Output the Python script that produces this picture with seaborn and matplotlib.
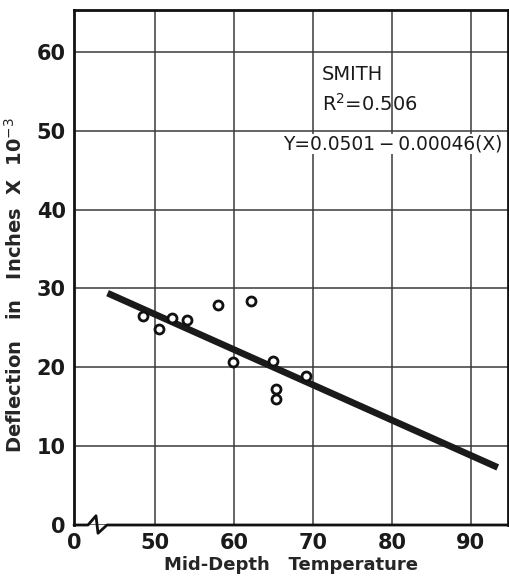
import matplotlib
matplotlib.use("Agg")
import matplotlib.pyplot as plt
import seaborn as sns
import pandas as pd
from matplotlib.lines import Line2D

# ---- data ----
temperature = [48.5, 50.5, 52.1, 54.1, 58.0, 62.2, 59.9, 65.0, 69.1, 65.3, 65.3]
deflection = [26.5, 24.9, 26.3, 26.0, 27.9, 28.4, 20.7, 20.8, 18.9, 17.3, 16.0]
fit_x = [44.0, 93.4]
fit_y = [29.4, 7.3]
x_tick_vals = [39.75, 50, 60, 70, 80, 90]
x_tick_labels = ["0", "50", "60", "70", "80", "90"]
y_tick_vals = [0, 10, 20, 30, 40, 50, 60]
y_tick_labels = ["0", "10", "20", "30", "40", "50", "60"]

sns.set_style("white")
plt.rcParams["font.family"] = ["DejaVu Sans"]

fig = plt.figure(figsize=(5.09, 5.76), dpi=100)
ax = fig.add_axes([74 / 509, 1 - 525 / 576, (508 - 74) / 509, (525 - 10) / 576])

pts = pd.DataFrame({"temp": temperature, "defl": deflection})
fit = pd.DataFrame({"x": fit_x, "y": fit_y})

ax.set_xlim(39.75, 94.7)
ax.set_ylim(0, 65.3)
ax.set_xticks(x_tick_vals)
ax.set_xticklabels(x_tick_labels)
ax.set_yticks(y_tick_vals)
ax.set_yticklabels(y_tick_labels)
ax.grid(True, color="#3a3a3a", linewidth=1.1)
ax.set_axisbelow(True)

sns.lineplot(data=fit, x="x", y="y", ax=ax, color="#1a1a1a", linewidth=4.8,
             solid_capstyle="butt", zorder=3)
sns.scatterplot(data=pts, x="temp", y="defl", ax=ax, marker="o", s=42,
                facecolor="white", edgecolor="#111111", linewidth=2.0, zorder=4)

for s in ax.spines.values():
    s.set_linewidth(2.0)
    s.set_color("#111111")
ax.tick_params(axis="both", length=0, labelsize=15, colors="#1a1a1a", pad=6)
for lab in ax.get_xticklabels() + ax.get_yticklabels():
    lab.set_fontweight("bold")

ax.set_xlabel("Mid-Depth   Temperature", fontsize=13, fontweight="bold", labelpad=2)
ax.set_ylabel("Deflection   in   Inches  X  10$^{-3}$", fontsize=14,
              fontweight="bold")
ax.yaxis.set_label_coords(-0.112, 0.466)

# axis break mark on the x axis
ax.spines["bottom"].set_visible(False)
bx = [0.0, 14 / 434, 22 / 434, 24 / 434, 33 / 434, 1.0]
by = [0.0, 0.0, 0.018, -0.016, 0.0, 0.0]
ax.add_line(Line2D(bx, by, transform=ax.transAxes, color="#111111",
                   linewidth=2.0, clip_on=False, zorder=5))

fig.text(322 / 509, 1 - 75 / 576, "SMITH", fontsize=14, va="center", ha="left",
         color="#1a1a1a")
fig.text(322 / 509, 1 - 104 / 576, "R$^{2}$=0.506", fontsize=14, va="center",
         ha="left", color="#1a1a1a")
fig.text(502 / 509, 1 - 144 / 576, "Y=0.0501\u2009\u2212\u20090.00046(X)", fontsize=13.4,
         va="center", ha="right", color="#1a1a1a",
         bbox=dict(facecolor="white", edgecolor="none", pad=0.5))

fig.savefig("out.png", dpi=100)
